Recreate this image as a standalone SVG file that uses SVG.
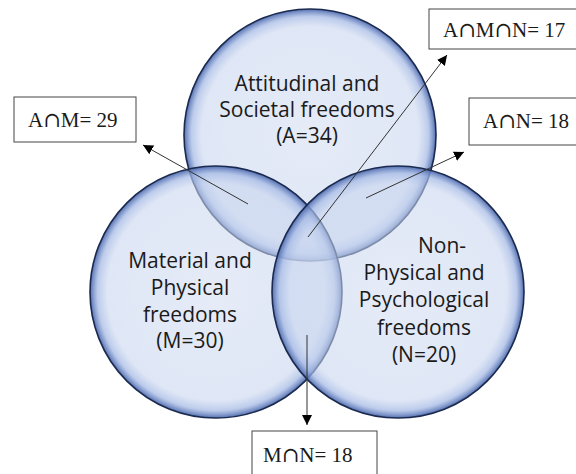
<svg xmlns="http://www.w3.org/2000/svg" width="576" height="474" viewBox="0 0 576 474">
<style>
.circ{stroke:#1b2a4e;stroke-width:1.6;fill:url(#g)}
.lbl{font-family:"Open Sans","Noto Sans",sans-serif;font-size:21px;fill:#1a1a1a;text-anchor:middle}
.box{fill:#fff;stroke:#444;stroke-width:1}
.bt{font-family:"Liberation Serif","DejaVu Serif",serif;font-size:21px;fill:#1a1a1a}
.cap{font-family:"DejaVu Serif",serif;font-size:21px}
.con{stroke:#333;stroke-width:1;fill:none;marker-end:url(#ah)}
</style>
<defs>
<radialGradient id="g" cx="0.5" cy="0.5" r="0.5">
<stop offset="0" stop-color="#d0dbf0" stop-opacity="0.55"/>
<stop offset="0.86" stop-color="#c8d5ef" stop-opacity="0.58"/>
<stop offset="0.94" stop-color="#a3b8e4" stop-opacity="0.72"/>
<stop offset="1" stop-color="#4a68ad" stop-opacity="0.95"/>
</radialGradient>
<marker id="ah" viewBox="0 0 10 10" refX="10" refY="5" markerWidth="10" markerHeight="10" markerUnits="userSpaceOnUse" orient="auto">
<path d="M0,0 L10,5 L0,10 z" fill="#000"/>
</marker>
</defs>
<rect width="576" height="474" fill="#fff"/>
<g id="circleA"><circle class="circ" cx="310" cy="135" r="126"/></g>
<g id="circleM"><circle class="circ" cx="216" cy="292" r="126"/></g>
<g id="circleN"><circle class="circ" cx="398" cy="292" r="126"/></g>
<g id="labelA">
<text class="lbl" x="307" y="91">Attitudinal and</text>
<text class="lbl" x="307" y="117">Societal freedoms</text>
<text class="lbl" x="307" y="143">(A=34)</text>
</g>
<g id="labelM">
<text class="lbl" x="190" y="268">Material and</text>
<text class="lbl" x="190" y="295">Physical</text>
<text class="lbl" x="190" y="322">freedoms</text>
<text class="lbl" x="190" y="348">(M=30)</text>
</g>
<g id="labelN">
<text class="lbl" x="442" y="253">Non-</text>
<text class="lbl" x="424" y="280">Physical and</text>
<text class="lbl" x="424" y="307">Psychological</text>
<text class="lbl" x="424" y="335">freedoms</text>
<text class="lbl" x="424" y="362">(N=20)</text>
</g>
<g id="connectors">
<line class="con" x1="248" y1="204" x2="143" y2="145"/>
<line class="con" x1="366" y1="198" x2="464" y2="152"/>
<line class="con" x1="308" y1="237" x2="447" y2="55"/>
<line class="con" x1="307" y1="335" x2="307" y2="425"/>
</g>
<g id="boxAM"><rect class="box" x="14" y="97" width="122" height="45"/><text class="bt" x="28" y="127">A<tspan class="cap">∩</tspan>M= 29</text></g>
<g id="boxAMN"><rect class="box" x="429" y="9" width="160" height="40"/><text class="bt" x="443" y="37">A<tspan class="cap">∩</tspan>M<tspan class="cap">∩</tspan>N= 17</text></g>
<g id="boxAN"><rect class="box" x="469" y="98" width="120" height="47"/><text class="bt" x="483" y="128">A<tspan class="cap">∩</tspan>N= 18</text></g>
<g id="boxMN"><rect class="box" x="252" y="431" width="125" height="50"/><text class="bt" x="263" y="462">M<tspan class="cap">∩</tspan>N= 18</text></g>
</svg>
